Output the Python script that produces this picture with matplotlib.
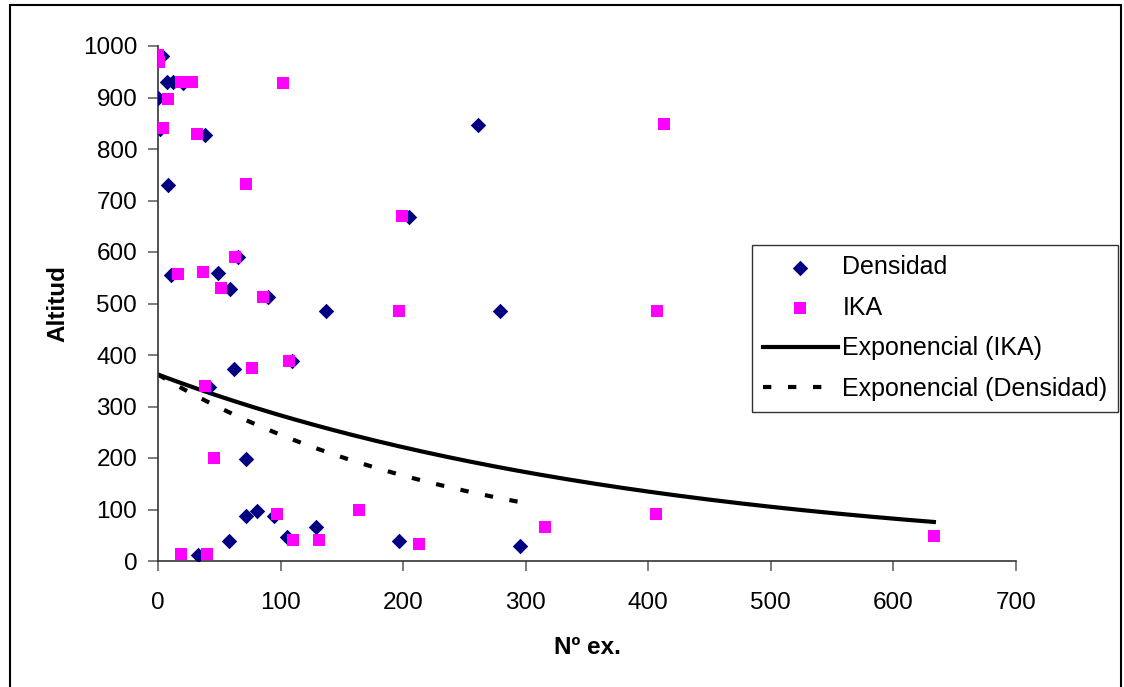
import numpy as np
import matplotlib
matplotlib.use("Agg")
import matplotlib.pyplot as plt
from matplotlib.patches import Rectangle

plt.rcParams['font.family'] = ['Liberation Sans', 'DejaVu Sans']

# Densidad: numero de ejemplares frente a altitud
dens_x = [3, 0, 7, 12, 20, 2, 38, 8, 11, 49, 59, 65, 90, 137, 62, 109, 42,
          72, 72, 81, 95, 105, 129, 58, 33, 197, 295, 261, 205, 279]
dens_y = [980, 900, 930, 930, 928, 838, 828, 730, 556, 560, 528, 590, 513, 486,
          372, 388, 338, 198, 88, 97, 88, 47, 66, 38, 12, 38, 30, 847, 668, 486]

# IKA
ika_x = [0, 1, 19, 28, 102, 8, 4, 32, 72, 16, 37, 51, 63, 86, 77, 107, 38,
         46, 97, 110, 131, 164, 19, 40, 213, 316, 406, 633, 413, 407, 199, 197]
ika_y = [982, 968, 930, 930, 928, 897, 841, 829, 732, 557, 561, 530, 590, 513,
         375, 388, 340, 200, 91, 41, 41, 99, 13, 13, 33, 66, 91, 48, 849, 486,
         670, 486]

# coeficientes de las lineas de tendencia exponencial y = a*exp(b*x)
ika_a, ika_b = 362.0, -0.00247
dens_a, dens_b = 362.0, -0.0039

x_ticks = [0, 100, 200, 300, 400, 500, 600, 700]
y_ticks = [0, 100, 200, 300, 400, 500, 600, 700, 800, 900, 1000]


def exp_trend(x, a, b):
    xs = np.linspace(min(x), max(x), 200)
    return xs, a * np.exp(b * xs)


fig = plt.figure(figsize=(11.24, 6.87), dpi=100)
ax = fig.add_axes([158 / 1124, 1 - 561 / 687, (1016 - 158) / 1124, (561 - 46) / 687])

tx, ty = exp_trend(ika_x, ika_a, ika_b)
dx, dy = exp_trend(dens_x, dens_a, dens_b)

ax.scatter(dens_x, dens_y, marker='D', s=62, color='#000080', linewidths=0,
           zorder=3, label='Densidad')
ax.scatter(ika_x, ika_y, marker='s', s=78, color='#FF00FF', linewidths=0,
           zorder=4, label='IKA')
ax.plot(tx, ty, color='black', lw=3, zorder=2, label='Exponencial (IKA)')
ax.plot(dx, dy, color='black', lw=3, ls=(0, (2, 4)), zorder=2,
        label='Exponencial (Densidad)')

ax.set_xlim(0, 700)
ax.set_ylim(0, 1000)
ax.set_xticks(x_ticks)
ax.set_yticks(y_ticks)
ax.tick_params(direction='out', length=7, width=1.2, color='#666666',
               labelsize=17.5)
ax.tick_params(axis='x', pad=15)
ax.tick_params(axis='y', pad=8)
for side in ['top', 'right']:
    ax.spines[side].set_visible(False)
for side in ['left', 'bottom']:
    ax.spines[side].set_color('#333333')
    ax.spines[side].set_linewidth(1.2)

ax.set_xlabel('Nº ex.', fontsize=17.5, fontweight='bold', labelpad=16)
ax.set_ylabel('Altitud', fontsize=17.5, fontweight='bold', labelpad=10)

leg = fig.legend(loc='upper left', bbox_to_anchor=(752 / 1124, 1 - 245 / 687),
                 fontsize=18, frameon=True, fancybox=False, edgecolor='black',
                 handlelength=3.0, handletextpad=0.2, labelspacing=0.66,
                 borderpad=0.42, borderaxespad=0, scatterpoints=1)
leg.get_frame().set_linewidth(1.0)

# marco exterior del grafico
fig.patches.append(Rectangle((10 / 1124, -0.02), (1121 - 10) / 1124, 1 - 5 / 687 + 0.02,
                             transform=fig.transFigure, fill=False,
                             edgecolor='black', lw=1.5))

fig.savefig('out.png', dpi=100)
